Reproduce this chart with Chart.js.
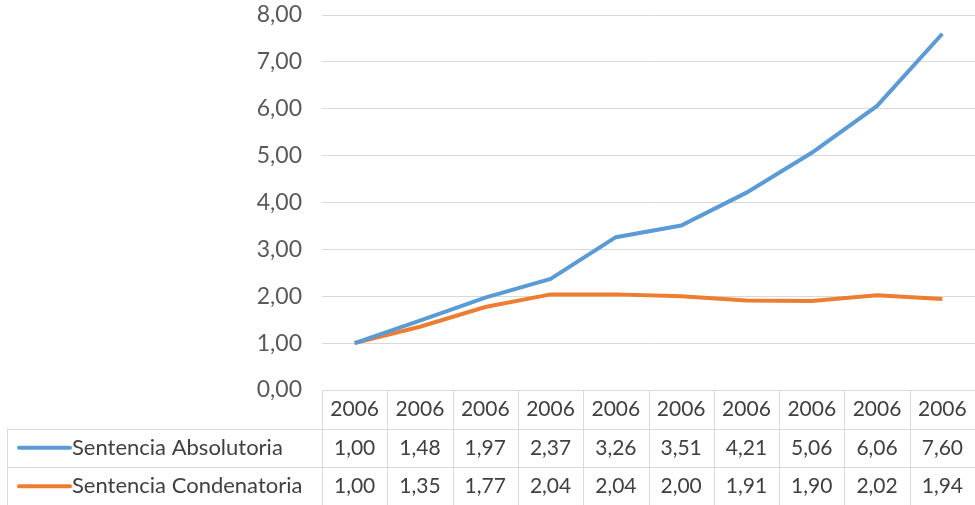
<!DOCTYPE html>
<html><head><meta charset="utf-8">
<script src="https://cdn.jsdelivr.net/npm/chart.js@4/dist/chart.umd.min.js"></script>
<style>html,body{margin:0;padding:0;background:#fff}#wrap{width:975px;height:505px}</style>
</head><body><div id="wrap"><canvas id="c" width="975" height="505"></canvas></div>
<script>
const categories = ["2006","2006","2006","2006","2006","2006","2006","2006","2006","2006"];
const seriesNames = ["Sentencia Absolutoria","Sentencia Condenatoria"];
const absolutoria = [1.00,1.48,1.97,2.37,3.26,3.51,4.21,5.06,6.06,7.60];
const condenatoria = [1.00,1.35,1.77,2.04,2.04,2.00,1.91,1.90,2.02,1.94];
const yTicks = [0,1,2,3,4,5,6,7,8];
const colors = ["#5B9BD5","#ED7D31"];

const FONT = "Lato, 'Open Sans', sans-serif";
const fmt = v => v.toFixed(2).replace('.', ',');

const tablePlugin = {
  id: 'dataTable',
  afterDraw(chart) {
    const ctx = chart.ctx, x = chart.scales.x, area = chart.chartArea;
    const n = categories.length;
    const colW = (area.right - area.left) / n;
    const top = area.bottom, rowH = 38.5;
    ctx.save();
    ctx.strokeStyle = '#d9d9d9'; ctx.lineWidth = 1;
    ctx.beginPath();
    ctx.moveTo(area.left, top + 0.5); ctx.lineTo(area.right, top + 0.5);
    for (let r = 1; r <= 3; r++) {
      const y = Math.round(top + r * rowH) + 0.5;
      ctx.moveTo(7, y); ctx.lineTo(area.right, y);
    }
    for (let i = 0; i <= n; i++) {
      const xx = Math.round(area.left + i * colW) + 0.5;
      ctx.moveTo(xx, top); ctx.lineTo(xx, top + 3 * rowH);
    }
    ctx.moveTo(7.5, top + rowH); ctx.lineTo(7.5, top + 3 * rowH);
    ctx.stroke();
    ctx.fillStyle = '#404040';
    ctx.font = '21px ' + FONT;
    ctx.textAlign = 'center'; ctx.textBaseline = 'middle';
    const rows = [absolutoria, condenatoria];
    for (let i = 0; i < n; i++) {
      const cx = x.getPixelForValue(i);
      ctx.fillText(categories[i], cx, top + rowH * 0.5);
      ctx.fillText(fmt(rows[0][i]), cx, top + rowH * 1.5);
      ctx.fillText(fmt(rows[1][i]), cx, top + rowH * 2.5);
    }
    ctx.textAlign = 'left';
    ctx.font = '22px ' + FONT;
    for (let r = 0; r < 2; r++) {
      const cy = top + rowH * (r + 1.5);
      ctx.strokeStyle = colors[r]; ctx.lineWidth = 4; ctx.lineCap = 'round';
      ctx.beginPath(); ctx.moveTo(19, cy); ctx.lineTo(70, cy); ctx.stroke();
      ctx.fillText(seriesNames[r], 72, cy);
    }
    ctx.restore();
  }
};

new Chart(document.getElementById('c'), {
  type: 'line',
  data: {
    labels: categories,
    datasets: [
      { label: seriesNames[0], data: absolutoria, borderColor: colors[0], backgroundColor: colors[0], borderWidth: 4, pointRadius: 0, tension: 0 },
      { label: seriesNames[1], data: condenatoria, borderColor: colors[1], backgroundColor: colors[1], borderWidth: 4, pointRadius: 0, tension: 0 }
    ]
  },
  options: {
    responsive: false, animation: false,
    layout: { padding: { top: 15, right: 0, left: 0, bottom: 0 } },
    plugins: { legend: { display: false }, tooltip: { enabled: false } },
    scales: {
      x: {
        offset: true,
        grid: { display: false, drawTicks: false },
        border: { display: false },
        ticks: { display: false },
        afterFit(s) { s.height = 115; s.paddingLeft = 0; s.paddingRight = 0; }
      },
      y: {
        min: 0, max: 8,
        afterBuildTicks(s) { s.ticks = yTicks.map(v => ({ value: v })); },
        afterFit(s) { s.width = 322; s.paddingTop = 0; s.paddingBottom = 0; },
        grid: { color: '#d9d9d9', lineWidth: 1, drawTicks: false },
        border: { display: false },
        ticks: { padding: 20, color: '#595959', font: { family: FONT, size: 23 }, callback: v => fmt(v) }
      }
    }
  },
  plugins: [tablePlugin]
});
</script></body></html>
